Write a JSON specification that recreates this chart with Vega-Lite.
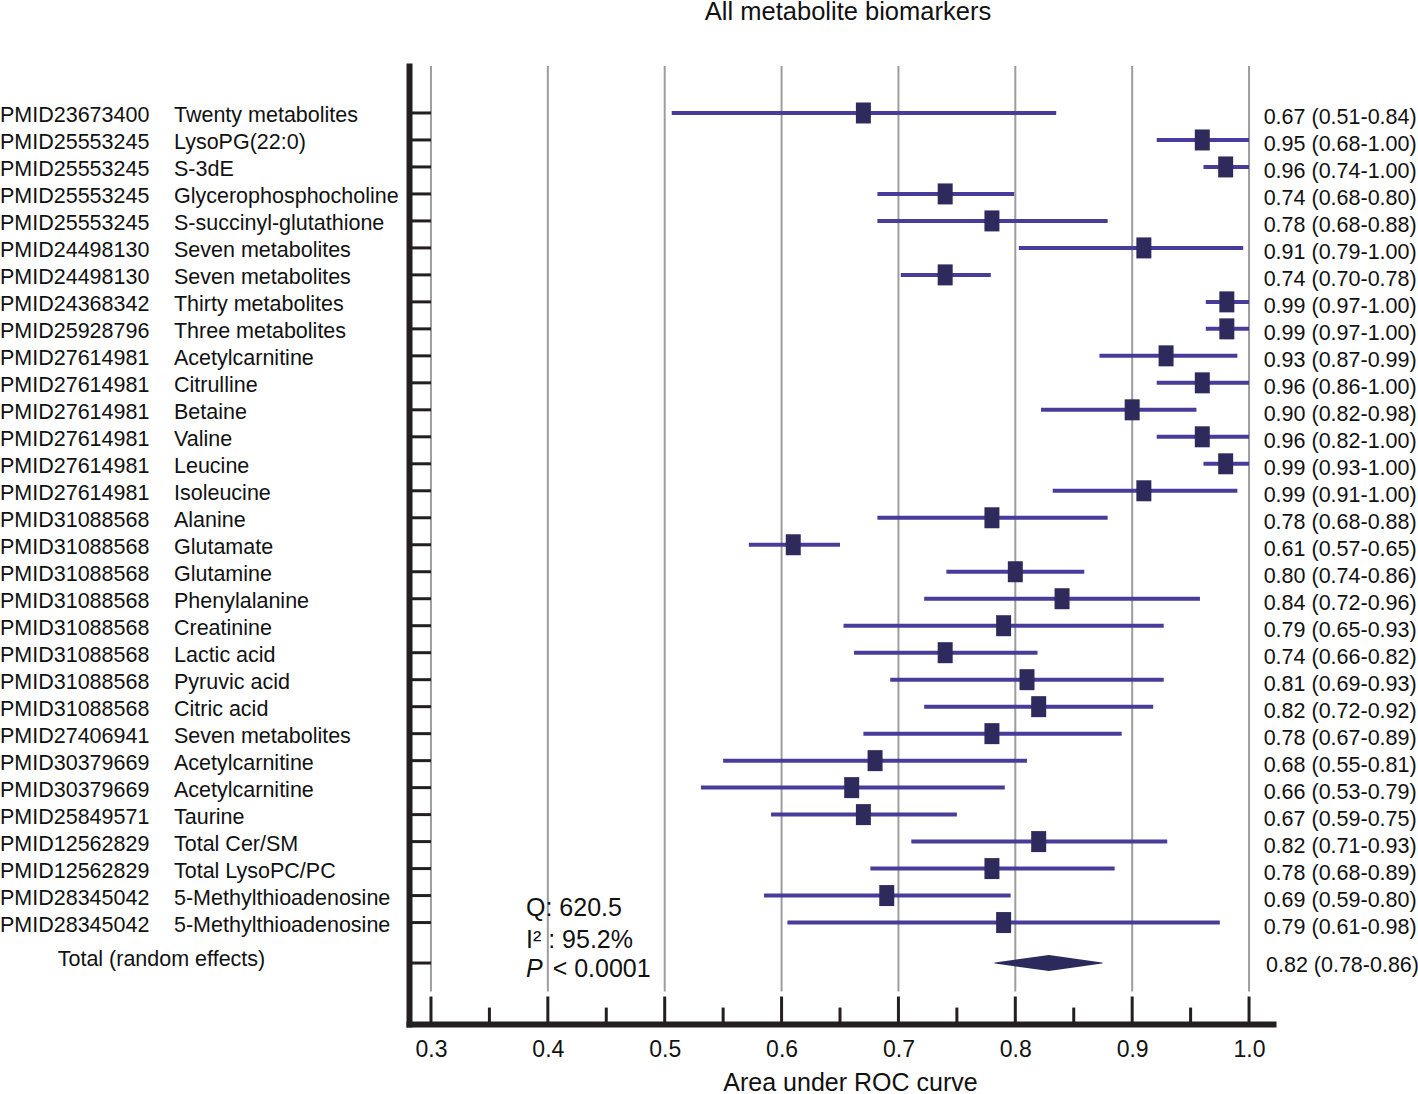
{
  "$schema": "https://vega.github.io/schema/vega-lite/v6.json",
  "autosize": {"type": "none"},
  "padding": {"left": 409, "top": 66, "right": 145, "bottom": 70},
  "width": 864,
  "height": 958,
  "title": {"text": "All metabolite biomarkers", "fontSize": 25.5, "font": "Liberation Sans", "fontWeight": "normal", "color": "#111111", "anchor": "middle", "frame": "group", "offset": 40, "dx": 7},
  "datasets": {
    "studies": [
      {"row": 1, "pmid": "PMID23673400", "name": "Twenty metabolites", "auc": 0.670, "lo": 0.506, "hi": 0.835, "label": "0.67 (0.51-0.84)"},
      {"row": 2, "pmid": "PMID25553245", "name": "LysoPG(22:0)", "auc": 0.960, "lo": 0.921, "hi": 1.0, "label": "0.95 (0.68-1.00)"},
      {"row": 3, "pmid": "PMID25553245", "name": "S-3dE", "auc": 0.980, "lo": 0.961, "hi": 1.0, "label": "0.96 (0.74-1.00)"},
      {"row": 4, "pmid": "PMID25553245", "name": "Glycerophosphocholine", "auc": 0.740, "lo": 0.682, "hi": 0.799, "label": "0.74 (0.68-0.80)"},
      {"row": 5, "pmid": "PMID25553245", "name": "S-succinyl-glutathione", "auc": 0.780, "lo": 0.682, "hi": 0.879, "label": "0.78 (0.68-0.88)"},
      {"row": 6, "pmid": "PMID24498130", "name": "Seven metabolites", "auc": 0.910, "lo": 0.803, "hi": 0.995, "label": "0.91 (0.79-1.00)"},
      {"row": 7, "pmid": "PMID24498130", "name": "Seven metabolites", "auc": 0.740, "lo": 0.702, "hi": 0.779, "label": "0.74 (0.70-0.78)"},
      {"row": 8, "pmid": "PMID24368342", "name": "Thirty metabolites", "auc": 0.981, "lo": 0.963, "hi": 1.0, "label": "0.99 (0.97-1.00)"},
      {"row": 9, "pmid": "PMID25928796", "name": "Three metabolites", "auc": 0.981, "lo": 0.963, "hi": 1.0, "label": "0.99 (0.97-1.00)"},
      {"row": 10, "pmid": "PMID27614981", "name": "Acetylcarnitine", "auc": 0.929, "lo": 0.872, "hi": 0.990, "label": "0.93 (0.87-0.99)"},
      {"row": 11, "pmid": "PMID27614981", "name": "Citrulline", "auc": 0.960, "lo": 0.921, "hi": 1.0, "label": "0.96 (0.86-1.00)"},
      {"row": 12, "pmid": "PMID27614981", "name": "Betaine", "auc": 0.900, "lo": 0.822, "hi": 0.955, "label": "0.90 (0.82-0.98)"},
      {"row": 13, "pmid": "PMID27614981", "name": "Valine", "auc": 0.960, "lo": 0.921, "hi": 1.0, "label": "0.96 (0.82-1.00)"},
      {"row": 14, "pmid": "PMID27614981", "name": "Leucine", "auc": 0.980, "lo": 0.961, "hi": 1.0, "label": "0.99 (0.93-1.00)"},
      {"row": 15, "pmid": "PMID27614981", "name": "Isoleucine", "auc": 0.910, "lo": 0.832, "hi": 0.990, "label": "0.99 (0.91-1.00)"},
      {"row": 16, "pmid": "PMID31088568", "name": "Alanine", "auc": 0.780, "lo": 0.682, "hi": 0.879, "label": "0.78 (0.68-0.88)"},
      {"row": 17, "pmid": "PMID31088568", "name": "Glutamate", "auc": 0.610, "lo": 0.572, "hi": 0.650, "label": "0.61 (0.57-0.65)"},
      {"row": 18, "pmid": "PMID31088568", "name": "Glutamine", "auc": 0.800, "lo": 0.741, "hi": 0.859, "label": "0.80 (0.74-0.86)"},
      {"row": 19, "pmid": "PMID31088568", "name": "Phenylalanine", "auc": 0.840, "lo": 0.722, "hi": 0.958, "label": "0.84 (0.72-0.96)"},
      {"row": 20, "pmid": "PMID31088568", "name": "Creatinine", "auc": 0.790, "lo": 0.653, "hi": 0.927, "label": "0.79 (0.65-0.93)"},
      {"row": 21, "pmid": "PMID31088568", "name": "Lactic acid", "auc": 0.740, "lo": 0.662, "hi": 0.819, "label": "0.74 (0.66-0.82)"},
      {"row": 22, "pmid": "PMID31088568", "name": "Pyruvic acid", "auc": 0.810, "lo": 0.693, "hi": 0.927, "label": "0.81 (0.69-0.93)"},
      {"row": 23, "pmid": "PMID31088568", "name": "Citric acid", "auc": 0.820, "lo": 0.722, "hi": 0.918, "label": "0.82 (0.72-0.92)"},
      {"row": 24, "pmid": "PMID27406941", "name": "Seven metabolites", "auc": 0.780, "lo": 0.670, "hi": 0.891, "label": "0.78 (0.67-0.89)"},
      {"row": 25, "pmid": "PMID30379669", "name": "Acetylcarnitine", "auc": 0.680, "lo": 0.550, "hi": 0.810, "label": "0.68 (0.55-0.81)"},
      {"row": 26, "pmid": "PMID30379669", "name": "Acetylcarnitine", "auc": 0.660, "lo": 0.531, "hi": 0.791, "label": "0.66 (0.53-0.79)"},
      {"row": 27, "pmid": "PMID25849571", "name": "Taurine", "auc": 0.670, "lo": 0.591, "hi": 0.750, "label": "0.67 (0.59-0.75)"},
      {"row": 28, "pmid": "PMID12562829", "name": "Total Cer/SM", "auc": 0.820, "lo": 0.711, "hi": 0.930, "label": "0.82 (0.71-0.93)"},
      {"row": 29, "pmid": "PMID12562829", "name": "Total LysoPC/PC", "auc": 0.780, "lo": 0.676, "hi": 0.885, "label": "0.78 (0.68-0.89)"},
      {"row": 30, "pmid": "PMID28345042", "name": "5-Methylthioadenosine", "auc": 0.690, "lo": 0.585, "hi": 0.796, "label": "0.69 (0.59-0.80)"},
      {"row": 31, "pmid": "PMID28345042", "name": "5-Methylthioadenosine", "auc": 0.790, "lo": 0.605, "hi": 0.975, "label": "0.79 (0.61-0.98)"}
    ],
    "total": [
      {"row": 32.5, "name": "Total (random effects)", "label": "0.82 (0.78-0.86)"}
    ],
    "diamond": [
      {"row": 32.5, "x": 0.7826, "w": 0},
      {"row": 32.5, "x": 0.8288, "w": 1},
      {"row": 32.5, "x": 0.8742, "w": 0}
    ],
    "rowticks": [
      {"row": 1}, {"row": 2}, {"row": 3}, {"row": 4}, {"row": 5}, {"row": 6}, {"row": 7}, {"row": 8},
      {"row": 9}, {"row": 10}, {"row": 11}, {"row": 12}, {"row": 13}, {"row": 14}, {"row": 15}, {"row": 16},
      {"row": 17}, {"row": 18}, {"row": 19}, {"row": 20}, {"row": 21}, {"row": 22}, {"row": 23}, {"row": 24},
      {"row": 25}, {"row": 26}, {"row": 27}, {"row": 28}, {"row": 29}, {"row": 30}, {"row": 31}, {"row": 32.5}
    ],
    "xticks": [
      {"v": 0.3, "kind": "major"}, {"v": 0.35, "kind": "minor"},
      {"v": 0.4, "kind": "major"}, {"v": 0.45, "kind": "minor"},
      {"v": 0.5, "kind": "major"}, {"v": 0.55, "kind": "minor"},
      {"v": 0.6, "kind": "major"}, {"v": 0.65, "kind": "minor"},
      {"v": 0.7, "kind": "major"}, {"v": 0.75, "kind": "minor"},
      {"v": 0.8, "kind": "major"}, {"v": 0.85, "kind": "minor"},
      {"v": 0.9, "kind": "major"}, {"v": 0.95, "kind": "minor"},
      {"v": 1.0, "kind": "major"}
    ],
    "single": [{}]
  },
  "config": {
    "view": {"stroke": null},
    "font": "Liberation Sans",
    "text": {"font": "Liberation Sans", "color": "#111111"},
    "axisX": {"ticks": false, "grid": false, "domainWidth": 6, "domainColor": "#231f20", "domainCap": "square",
              "labelFont": "Liberation Sans", "labelFontSize": 23, "labelColor": "#111111", "labelPadding": 14, "labelFlush": false,
              "titleFont": "Liberation Sans", "titleFontSize": 25, "titleFontWeight": "normal", "titleColor": "#111111",
              "titleBaseline": "alphabetic", "titleY": 66, "titleX": 441, "titleAlign": "center"},
    "axisY": {"labels": false, "ticks": false, "grid": false, "domainWidth": 6, "domainColor": "#231f20", "domainCap": "square", "titleOpacity": 0}
  },
  "layer": [
    {
      "data": {"name": "xticks"},
      "transform": [{"filter": "datum.kind === 'major'"}],
      "mark": {"type": "rule", "color": "#9d9d9d", "strokeWidth": 2},
      "encoding": {
        "x": {"field": "v", "type": "quantitative", "scale": {"domain": [0.2812, 1.0205], "nice": false, "zero": false},
              "axis": {"values": [0.3, 0.4, 0.5, 0.6, 0.7, 0.8, 0.9, 1.0], "format": ".1f", "title": "Area under ROC curve"}},
        "y": {"datum": -0.7407, "type": "quantitative", "scale": {"domain": [-0.7407, 34.7593], "nice": false, "zero": false, "reverse": true},
              "axis": {"title": ""}},
        "y2": {"datum": 33.556}
      }
    },
    {
      "data": {"name": "xticks"},
      "transform": [{"filter": "datum.kind === 'major'"}],
      "mark": {"type": "rule", "color": "#231f20", "strokeWidth": 3},
      "encoding": {
        "x": {"field": "v", "type": "quantitative", "scale": {"domain": [0.2812, 1.0205], "nice": false, "zero": false}},
        "y": {"datum": 33.74, "type": "quantitative", "scale": {"domain": [-0.7407, 34.7593], "nice": false, "zero": false, "reverse": true}},
        "y2": {"datum": 34.7593}
      }
    },
    {
      "data": {"name": "xticks"},
      "transform": [{"filter": "datum.kind === 'minor'"}],
      "mark": {"type": "rule", "color": "#231f20", "strokeWidth": 3},
      "encoding": {
        "x": {"field": "v", "type": "quantitative", "scale": {"domain": [0.2812, 1.0205], "nice": false, "zero": false}},
        "y": {"datum": 34.15, "type": "quantitative", "scale": {"domain": [-0.7407, 34.7593], "nice": false, "zero": false, "reverse": true}},
        "y2": {"datum": 34.7593}
      }
    },
    {
      "data": {"name": "rowticks"},
      "mark": {"type": "rule", "color": "#231f20", "strokeWidth": 3},
      "encoding": {
        "x": {"datum": 0.2812, "type": "quantitative", "scale": {"domain": [0.2812, 1.0205], "nice": false, "zero": false}},
        "x2": {"datum": 0.3},
        "y": {"field": "row", "type": "quantitative", "scale": {"domain": [-0.7407, 34.7593], "nice": false, "zero": false, "reverse": true}}
      }
    },
    {
      "data": {"name": "studies"},
      "mark": {"type": "rule", "color": "#483c9b", "strokeWidth": 4},
      "encoding": {
        "x": {"field": "lo", "type": "quantitative", "scale": {"domain": [0.2812, 1.0205], "nice": false, "zero": false}},
        "x2": {"field": "hi"},
        "y": {"field": "row", "type": "quantitative", "scale": {"domain": [-0.7407, 34.7593], "nice": false, "zero": false, "reverse": true}}
      }
    },
    {
      "data": {"name": "studies"},
      "mark": {"type": "point", "shape": "M-0.714,-1H0.714V1H-0.714Z", "size": 441, "filled": true, "opacity": 1, "color": "#2e2b5c", "strokeWidth": 0},
      "encoding": {
        "x": {"field": "auc", "type": "quantitative", "scale": {"domain": [0.2812, 1.0205], "nice": false, "zero": false}},
        "y": {"field": "row", "type": "quantitative", "scale": {"domain": [-0.7407, 34.7593], "nice": false, "zero": false, "reverse": true}}
      }
    },
    {
      "data": {"name": "diamond"},
      "mark": {"type": "trail", "color": "#2b2a5c"},
      "encoding": {
        "x": {"field": "x", "type": "quantitative", "scale": {"domain": [0.2812, 1.0205], "nice": false, "zero": false}},
        "y": {"field": "row", "type": "quantitative", "scale": {"domain": [-0.7407, 34.7593], "nice": false, "zero": false, "reverse": true}},
        "size": {"field": "w", "type": "quantitative", "scale": {"domain": [0, 1], "range": [0, 16]}, "legend": null}
      }
    },
    {
      "data": {"name": "studies"},
      "mark": {"type": "text", "align": "left", "baseline": "middle", "fontSize": 21.5, "dy": 3},
      "encoding": {
        "x": {"datum": -0.0688, "type": "quantitative", "scale": {"domain": [0.2812, 1.0205], "nice": false, "zero": false}},
        "y": {"field": "row", "type": "quantitative", "scale": {"domain": [-0.7407, 34.7593], "nice": false, "zero": false, "reverse": true}},
        "text": {"field": "pmid"}
      }
    },
    {
      "data": {"name": "studies"},
      "mark": {"type": "text", "align": "left", "baseline": "middle", "fontSize": 21.5, "dy": 3},
      "encoding": {
        "x": {"datum": 0.0801, "type": "quantitative", "scale": {"domain": [0.2812, 1.0205], "nice": false, "zero": false}},
        "y": {"field": "row", "type": "quantitative", "scale": {"domain": [-0.7407, 34.7593], "nice": false, "zero": false, "reverse": true}},
        "text": {"field": "name"}
      }
    },
    {
      "data": {"name": "studies"},
      "mark": {"type": "text", "align": "left", "baseline": "middle", "fontSize": 21.5, "dy": 5.5},
      "encoding": {
        "x": {"datum": 1.0125, "type": "quantitative", "scale": {"domain": [0.2812, 1.0205], "nice": false, "zero": false}},
        "y": {"field": "row", "type": "quantitative", "scale": {"domain": [-0.7407, 34.7593], "nice": false, "zero": false, "reverse": true}},
        "text": {"field": "label"}
      }
    },
    {
      "data": {"name": "total"},
      "mark": {"type": "text", "align": "left", "baseline": "middle", "fontSize": 21.5, "dy": -3.5},
      "encoding": {
        "x": {"datum": -0.0194, "type": "quantitative", "scale": {"domain": [0.2812, 1.0205], "nice": false, "zero": false}},
        "y": {"field": "row", "type": "quantitative", "scale": {"domain": [-0.7407, 34.7593], "nice": false, "zero": false, "reverse": true}},
        "text": {"field": "name"}
      }
    },
    {
      "data": {"name": "total"},
      "mark": {"type": "text", "align": "left", "baseline": "middle", "fontSize": 21.5, "dy": 2.5},
      "encoding": {
        "x": {"datum": 1.0145, "type": "quantitative", "scale": {"domain": [0.2812, 1.0205], "nice": false, "zero": false}},
        "y": {"field": "row", "type": "quantitative", "scale": {"domain": [-0.7407, 34.7593], "nice": false, "zero": false, "reverse": true}},
        "text": {"field": "label"}
      }
    },
    {
      "data": {"name": "single"},
      "mark": {"type": "text", "align": "left", "baseline": "alphabetic", "fontSize": 25},
      "encoding": {
        "x": {"datum": 0.3813, "type": "quantitative", "scale": {"domain": [0.2812, 1.0205], "nice": false, "zero": false}},
        "y": {"datum": 30.766, "type": "quantitative", "scale": {"domain": [-0.7407, 34.7593], "nice": false, "zero": false, "reverse": true}},
        "text": {"value": "Q: 620.5"}
      }
    },
    {
      "data": {"name": "single"},
      "mark": {"type": "text", "align": "left", "baseline": "alphabetic", "fontSize": 25},
      "encoding": {
        "x": {"datum": 0.3813, "type": "quantitative", "scale": {"domain": [0.2812, 1.0205], "nice": false, "zero": false}},
        "y": {"datum": 31.926, "type": "quantitative", "scale": {"domain": [-0.7407, 34.7593], "nice": false, "zero": false, "reverse": true}},
        "text": {"value": "I² : 95.2%"}
      }
    },
    {
      "data": {"name": "single"},
      "mark": {"type": "text", "align": "left", "baseline": "alphabetic", "fontSize": 25, "fontStyle": "italic"},
      "encoding": {
        "x": {"datum": 0.3813, "type": "quantitative", "scale": {"domain": [0.2812, 1.0205], "nice": false, "zero": false}},
        "y": {"datum": 33.026, "type": "quantitative", "scale": {"domain": [-0.7407, 34.7593], "nice": false, "zero": false, "reverse": true}},
        "text": {"value": "P"}
      }
    },
    {
      "data": {"name": "single"},
      "mark": {"type": "text", "align": "left", "baseline": "alphabetic", "fontSize": 25},
      "encoding": {
        "x": {"datum": 0.4041, "type": "quantitative", "scale": {"domain": [0.2812, 1.0205], "nice": false, "zero": false}},
        "y": {"datum": 33.026, "type": "quantitative", "scale": {"domain": [-0.7407, 34.7593], "nice": false, "zero": false, "reverse": true}},
        "text": {"value": "< 0.0001"}
      }
    }
  ]
}
